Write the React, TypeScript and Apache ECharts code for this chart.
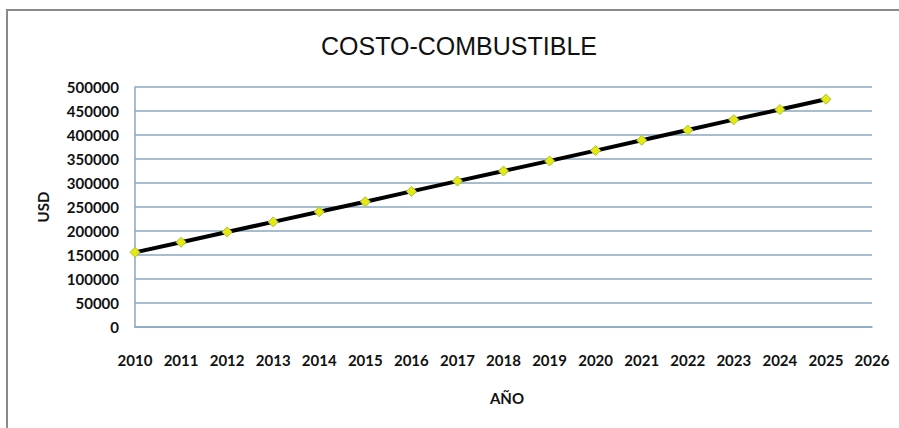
import React, { useEffect, useRef } from "react";
import * as echarts from "echarts";

// Fuel cost projection by year (USD)
const years: number[] = [2010, 2011, 2012, 2013, 2014, 2015, 2016, 2017, 2018, 2019, 2020, 2021, 2022, 2023, 2024, 2025];
const costUSD: number[] = [155500, 176500, 198000, 219000, 240000, 261000, 282500, 304000, 325000, 346000, 367500, 389000, 410500, 432000, 453000, 474500];
const yTicks: number[] = [0, 50000, 100000, 150000, 200000, 250000, 300000, 350000, 400000, 450000, 500000];

const titleText = "COSTO-COMBUSTIBLE";
const xName = "AÑO";
const yName = "USD";

const labelFont = "Lato, 'Open Sans', sans-serif";
const gridColor = "#88a9c1";

export default function App() {
  const ref = useRef<HTMLDivElement>(null);

  useEffect(() => {
    if (!ref.current) return;
    const chart = echarts.init(ref.current, null, { renderer: "svg" });
    chart.setOption({
      animation: false,
      backgroundColor: "#ffffff",
      title: {
        text: titleText,
        left: 454,
        textAlign: "center",
        top: 28,
        textStyle: {
          fontFamily: "'Liberation Sans', Arial, sans-serif",
          fontSize: 25,
          fontWeight: "normal",
          color: "#111111",
        },
      },
      graphic: [
        {
          type: "rect",
          shape: { x: 7, y: 10, width: 920, height: 440 },
          style: { fill: "none", stroke: "#8a8a8a", lineWidth: 2 },
          silent: true,
          z: 0,
        },
        {
          type: "text",
          x: 43,
          y: 207,
          rotation: Math.PI / 2,
          style: {
            text: yName,
            fontFamily: labelFont,
            fontWeight: "bold",
            fontSize: 15,
            fill: "#111111",
            align: "center",
            verticalAlign: "middle",
          },
        },
        {
          type: "text",
          x: 507,
          y: 398,
          style: {
            text: xName,
            fontFamily: labelFont,
            fontWeight: "bold",
            fontSize: 15,
            fill: "#111111",
            align: "center",
            verticalAlign: "middle",
          },
        },
      ],
      grid: { left: 135, right: 27, top: 87, bottom: 101, containLabel: false },
      xAxis: {
        type: "value",
        min: 2010,
        max: 2026,
        interval: 1,
        axisLine: { show: true, lineStyle: { color: gridColor, width: 1.5 } },
        axisTick: { show: false },
        splitLine: { show: false },
        axisLabel: {
          margin: 25,
          fontFamily: labelFont,
          fontWeight: "bold",
          fontSize: 15,
          color: "#111111",
          formatter: (v: number) => String(v),
        },
      },
      yAxis: {
        type: "value",
        min: yTicks[0],
        max: yTicks[yTicks.length - 1],
        interval: 50000,
        axisLine: { show: true, lineStyle: { color: gridColor, width: 1.5 } },
        axisTick: { show: false },
        splitLine: { show: true, lineStyle: { color: gridColor, width: 1.5 } },
        axisLabel: {
          margin: 16,
          fontFamily: labelFont,
          fontWeight: "bold",
          fontSize: 15,
          color: "#111111",
          formatter: (v: number) => String(v),
        },
      },
      series: [
        {
          type: "line",
          data: years.map((y, i) => [y, costUSD[i]]),
          lineStyle: { color: "#000000", width: 4 },
          symbol: "diamond",
          symbolSize: 10,
          itemStyle: { color: "#e8e810", borderColor: "#9ec43a", borderWidth: 1 },
          z: 3,
        },
      ],
    });
    return () => chart.dispose();
  }, []);

  return (
    <div
      ref={ref}
      style={{ position: "fixed", left: 0, top: 0, width: 899, height: 428 }}
    />
  );
}
